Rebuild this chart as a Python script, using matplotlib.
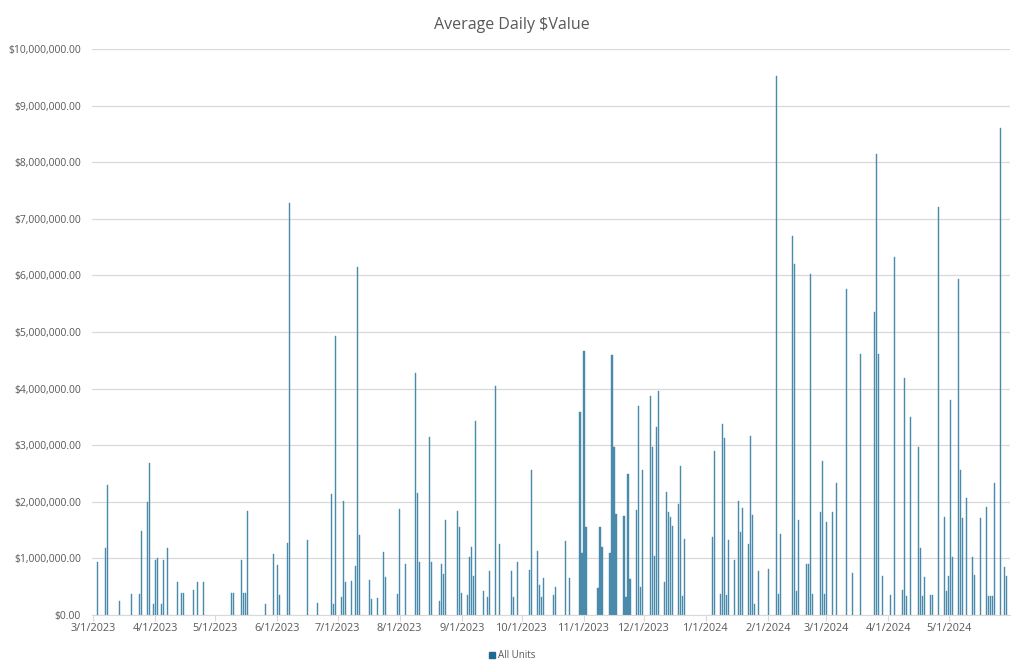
import pandas as pd
import matplotlib.pyplot as plt
from matplotlib.patches import Patch
from matplotlib.ticker import FuncFormatter

# trade dates and average daily value (millions of $)
dates = [
    "2023-03-03", "2023-03-07", "2023-03-08", "2023-03-14", "2023-03-20", "2023-03-24", "2023-03-25",
    "2023-03-28", "2023-03-29", "2023-03-31", "2023-04-01", "2023-04-02", "2023-04-04", "2023-04-05",
    "2023-04-07", "2023-04-12", "2023-04-14", "2023-04-15", "2023-04-20", "2023-04-22", "2023-04-25",
    "2023-05-09", "2023-05-10", "2023-05-14", "2023-05-15", "2023-05-16", "2023-05-17", "2023-05-26",
    "2023-05-30", "2023-06-01", "2023-06-02", "2023-06-06", "2023-06-07", "2023-06-16", "2023-06-21",
    "2023-06-28", "2023-06-29", "2023-06-30", "2023-07-03", "2023-07-04", "2023-07-05", "2023-07-08",
    "2023-07-10", "2023-07-11", "2023-07-12", "2023-07-17", "2023-07-18", "2023-07-21", "2023-07-24",
    "2023-07-25", "2023-07-31", "2023-08-01", "2023-08-04", "2023-08-09", "2023-08-10", "2023-08-11",
    "2023-08-16", "2023-08-17", "2023-08-21", "2023-08-22", "2023-08-23", "2023-08-24", "2023-08-30",
    "2023-08-31", "2023-09-01", "2023-09-04", "2023-09-05", "2023-09-06", "2023-09-07", "2023-09-08",
    "2023-09-12", "2023-09-14", "2023-09-15", "2023-09-18", "2023-09-20", "2023-09-26", "2023-09-27",
    "2023-09-29", "2023-10-05", "2023-10-06", "2023-10-09", "2023-10-10", "2023-10-11", "2023-10-12",
    "2023-10-17", "2023-10-18", "2023-10-23", "2023-10-25", "2023-10-30", "2023-10-31", "2023-11-01",
    "2023-11-02", "2023-11-08", "2023-11-09", "2023-11-10", "2023-11-14", "2023-11-15", "2023-11-16",
    "2023-11-17", "2023-11-21", "2023-11-22", "2023-11-23", "2023-11-24", "2023-11-27", "2023-11-28",
    "2023-11-29", "2023-11-30", "2023-12-04", "2023-12-05", "2023-12-06", "2023-12-07", "2023-12-08",
    "2023-12-11", "2023-12-12", "2023-12-13", "2023-12-14", "2023-12-15", "2023-12-18", "2023-12-19",
    "2023-12-20", "2023-12-21", "2024-01-04", "2024-01-05", "2024-01-08", "2024-01-09", "2024-01-10",
    "2024-01-11", "2024-01-12", "2024-01-15", "2024-01-17", "2024-01-18", "2024-01-19", "2024-01-22",
    "2024-01-23", "2024-01-24", "2024-01-25", "2024-01-27", "2024-02-01", "2024-02-05", "2024-02-06",
    "2024-02-07", "2024-02-13", "2024-02-14", "2024-02-15", "2024-02-16", "2024-02-20", "2024-02-21",
    "2024-02-22", "2024-02-23", "2024-02-27", "2024-02-28", "2024-02-29", "2024-03-01", "2024-03-04",
    "2024-03-06", "2024-03-11", "2024-03-14", "2024-03-18", "2024-03-25", "2024-03-26", "2024-03-27",
    "2024-03-29", "2024-04-02", "2024-04-04", "2024-04-08", "2024-04-09", "2024-04-10", "2024-04-12",
    "2024-04-16", "2024-04-17", "2024-04-18", "2024-04-19", "2024-04-22", "2024-04-23", "2024-04-26",
    "2024-04-29", "2024-04-30", "2024-05-01", "2024-05-02", "2024-05-03", "2024-05-06", "2024-05-07",
    "2024-05-08", "2024-05-10", "2024-05-13", "2024-05-14", "2024-05-17", "2024-05-20", "2024-05-21",
    "2024-05-22", "2024-05-23", "2024-05-24", "2024-05-27", "2024-05-29", "2024-05-30",
]
values_m = [
    0.93, 1.18, 2.30, 0.24, 0.38, 0.38, 1.49,
    2.00, 2.69, 0.20, 0.98, 1.00, 0.20, 0.98,
    1.19, 0.585, 0.39, 0.39, 0.44, 0.585, 0.585,
    0.39, 0.39, 0.98, 0.39, 0.39, 1.84, 0.20,
    1.08, 0.88, 0.355, 1.28, 7.28, 1.33, 0.22,
    2.13, 0.20, 4.93, 0.32, 2.01, 0.585, 0.60,
    0.86, 6.15, 1.42, 0.62, 0.28, 0.30, 1.12,
    0.67, 0.38, 1.87, 0.90, 4.27, 2.16, 0.93,
    3.14, 0.93, 0.24, 0.90, 0.72, 1.68, 1.84,
    1.55, 0.39, 0.355, 1.03, 1.21, 0.69, 3.43,
    0.43, 0.32, 0.77, 4.05, 1.25, 0.77, 0.32,
    0.93, 0.80, 2.57, 1.13, 0.53, 0.32, 0.66,
    0.36, 0.50, 1.30, 0.66, 3.58, 1.10, 4.67,
    1.56, 0.48, 1.56, 1.21, 1.09, 4.59, 2.96,
    1.78, 1.75, 0.32, 2.50, 0.64, 1.86, 3.70,
    0.50, 2.57, 3.87, 2.97, 1.05, 3.33, 3.96,
    0.58, 2.17, 1.82, 1.73, 1.58, 1.97, 2.64,
    0.34, 1.34, 1.38, 2.90, 0.37, 3.38, 3.12,
    0.35, 1.32, 0.97, 2.01, 1.47, 1.89, 1.26,
    3.16, 1.77, 0.195, 0.77, 0.81, 9.52, 0.37,
    1.44, 6.70, 6.20, 0.43, 1.68, 0.90, 0.91,
    6.02, 0.37, 1.82, 2.72, 0.37, 1.64, 1.82,
    2.34, 5.76, 0.74, 4.61, 5.35, 8.14, 4.61,
    0.69, 0.35, 6.33, 0.44, 4.18, 0.34, 3.49,
    2.96, 1.19, 0.34, 0.67, 0.35, 0.35, 7.21,
    1.73, 0.43, 0.69, 3.79, 1.03, 5.94, 2.57,
    1.71, 2.06, 1.03, 0.70, 1.71, 1.90, 0.34,
    0.34, 0.34, 2.33, 8.60, 0.85, 0.69,
]
tick_months = pd.date_range("2023-03-01", "2024-05-01", freq="MS")

x = pd.to_datetime(dates)
y = [v * 1e6 for v in values_m]

bar_color = "#4A8BAB"
text_color = "#595959"
plt.rcParams["font.family"] = ["Open Sans", "DejaVu Sans"]

fig = plt.figure(figsize=(10.24, 6.70), dpi=100)
ax = fig.add_axes([0.09, 0.082, 0.896, 0.845])

ax.bar(x, y, width=0.55, color=bar_color, edgecolor=bar_color, linewidth=0.3)

ax.set_ylim(0, 1e7)
ax.set_yticks(range(0, 10000001, 1000000))
ax.yaxis.set_major_formatter(FuncFormatter(lambda v, p: f"${v:,.2f}"))
ax.set_xlim(pd.Timestamp("2023-03-01") - pd.Timedelta(hours=12),
            pd.Timestamp("2024-05-31") + pd.Timedelta(hours=12))
ax.set_xticks(tick_months)
ax.set_xticklabels([f"{d.month}/{d.day}/{d.year}" for d in tick_months])

ax.grid(axis="y", color="#D9D9D9", linewidth=0.9)
ax.set_axisbelow(True)
for s in ["top", "right", "left"]:
    ax.spines[s].set_visible(False)
ax.spines["bottom"].set_color("#D9D9D9")
ax.tick_params(axis="y", length=0, labelsize=7.5, labelcolor=text_color, pad=8)
ax.tick_params(axis="x", length=4, color="#D9D9D9", labelsize=7.8, labelcolor=text_color, pad=2)

fig.suptitle("Average Daily \\$Value", x=0.5, y=0.975, fontsize=11.5, color=text_color)

fig.legend(handles=[Patch(color="#1F6A94", label="All Units")], loc="lower center",
           bbox_to_anchor=(0.5, 0.0), frameon=False, fontsize=7, labelcolor=text_color,
           handlelength=0.6, handleheight=0.6, handletextpad=0.3)

plt.savefig("out.png", dpi=100)
plt.close()
